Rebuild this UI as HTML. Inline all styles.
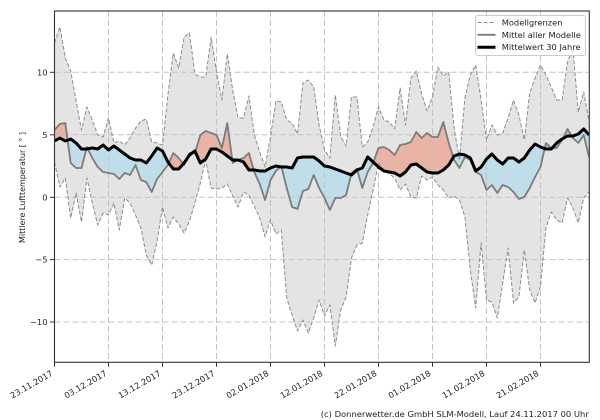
<!DOCTYPE html>
<html>
<head>
<meta charset="utf-8">
<style>
html,body{margin:0;padding:0;background:#fff;}
svg{display:block;}
text{font-family:"DejaVu Sans","Liberation Sans",sans-serif;fill:#222;}
</style>
</head>
<body>
<svg width="600" height="420" viewBox="0 0 600 420" xmlns="http://www.w3.org/2000/svg">
<defs>
<clipPath id="plot"><rect x="54.5" y="11" width="534.8" height="351.3"/></clipPath>
<clipPath id="above"><polygon points="54.5,141 59.9,138 65.3,141 70.7,139 76.1,143 81.5,149 86.9,149 92.3,148 97.7,149 103.1,145 108.5,150 113.9,146 119.3,150 124.7,154 130.1,158 135.5,160 140.9,160 146.3,163 151.7,156 157.1,148 162.5,151 167.9,162 173.3,169 178.7,169 184.1,163 189.5,155 194.9,151 200.3,163 205.7,159 211.1,149 216.5,149 221.9,152 227.3,156 232.7,160 238.1,160 243.5,162 248.9,170 254.3,170 259.7,171 265.1,171 270.5,168 275.9,166 281.3,167 286.7,167 292.1,168 297.5,158 302.9,157 308.3,157 313.7,157 319.1,161 324.5,166 329.9,167 335.3,169 340.7,171 346.1,173 351.5,175 356.9,170 362.3,168 367.7,157 373.1,162 378.5,167 383.9,171 389.3,172 394.7,173 400.1,176 405.5,172 410.9,165 416.3,164 421.7,168 427.1,172 432.5,173 437.9,173 443.3,170 448.7,165 454.1,156 459.5,154 464.9,155 470.3,158 475.7,171 481.1,167 486.5,159 491.9,154 497.3,160 502.7,164 508.1,158 513.5,158 518.9,162 524.3,158 529.7,150 535.1,144 540.5,147 545.9,149 551.3,149 556.7,143 562.1,139 567.5,136 572.9,136 578.3,134 583.7,129 589.1,135 589.1,0 54.5,0"/></clipPath>
<clipPath id="below"><polygon points="54.5,141 59.9,138 65.3,141 70.7,139 76.1,143 81.5,149 86.9,149 92.3,148 97.7,149 103.1,145 108.5,150 113.9,146 119.3,150 124.7,154 130.1,158 135.5,160 140.9,160 146.3,163 151.7,156 157.1,148 162.5,151 167.9,162 173.3,169 178.7,169 184.1,163 189.5,155 194.9,151 200.3,163 205.7,159 211.1,149 216.5,149 221.9,152 227.3,156 232.7,160 238.1,160 243.5,162 248.9,170 254.3,170 259.7,171 265.1,171 270.5,168 275.9,166 281.3,167 286.7,167 292.1,168 297.5,158 302.9,157 308.3,157 313.7,157 319.1,161 324.5,166 329.9,167 335.3,169 340.7,171 346.1,173 351.5,175 356.9,170 362.3,168 367.7,157 373.1,162 378.5,167 383.9,171 389.3,172 394.7,173 400.1,176 405.5,172 410.9,165 416.3,164 421.7,168 427.1,172 432.5,173 437.9,173 443.3,170 448.7,165 454.1,156 459.5,154 464.9,155 470.3,158 475.7,171 481.1,167 486.5,159 491.9,154 497.3,160 502.7,164 508.1,158 513.5,158 518.9,162 524.3,158 529.7,150 535.1,144 540.5,147 545.9,149 551.3,149 556.7,143 562.1,139 567.5,136 572.9,136 578.3,134 583.7,129 589.1,135 589.1,420 54.5,420"/></clipPath>
</defs>

<g clip-path="url(#plot)">
<!-- model range band -->
<polygon fill="#e4e4e4" points="54.5,43 59.9,27 65.3,58 70.7,71 76.1,101 81.5,130 86.9,107 92.3,120 97.7,135 103.1,137 108.5,118 113.9,143 119.3,141 124.7,145 130.1,138 135.5,128 140.9,121 146.3,119 151.7,142 157.1,143 162.5,145 167.9,95 173.3,53 178.7,68 184.1,37 189.5,33 194.9,74 200.3,77 205.7,77 211.1,37 216.5,72 221.9,100 227.3,54 232.7,90 238.1,118 243.5,118 248.9,96 254.3,135 259.7,152 265.1,167 270.5,137 275.9,101 281.3,102 286.7,120 292.1,123 297.5,134 302.9,83 308.3,80 313.7,87 319.1,125 324.5,150 329.9,158 335.3,95 340.7,136 346.1,146 351.5,97 356.9,97 362.3,147 367.7,142 373.1,127 378.5,107 383.9,120 389.3,122 394.7,129 400.1,88 405.5,125 410.9,78 416.3,71 421.7,94 427.1,111 432.5,97 437.9,67 443.3,76 448.7,72 454.1,128 459.5,160 464.9,98 470.3,75 475.7,65 481.1,100 486.5,140 491.9,125 497.3,135 502.7,133 508.1,118 513.5,100 518.9,115 524.3,140 529.7,93 535.1,78 540.5,65 545.9,75 551.3,87 556.7,100 562.1,100 567.5,62 572.9,48 578.3,112 583.7,92 589.1,122 589.1,192 583.7,198 578.3,223 572.9,208 567.5,198 562.1,223 556.7,220 551.3,212 545.9,228 540.5,286 535.1,303 529.7,290 524.3,250 518.9,297 513.5,303 508.1,248 502.7,283 497.3,318 491.9,302 486.5,300 481.1,243 475.7,308 470.3,270 464.9,217 459.5,200 454.1,196 448.7,198 443.3,190 437.9,185 432.5,177 427.1,180 421.7,176 416.3,198 410.9,197 405.5,184 400.1,190 394.7,178 389.3,174 383.9,170 378.5,163 373.1,190 367.7,215 362.3,243 356.9,245 351.5,258 346.1,297 340.7,310 335.3,346 329.9,305 324.5,316 319.1,300 313.7,318 308.3,333 302.9,320 297.5,331 292.1,315 286.7,298 281.3,230 275.9,234 270.5,220 265.1,237 259.7,218 254.3,206 248.9,195 243.5,192 238.1,207 232.7,196 227.3,184 221.9,188 216.5,189 211.1,188 205.7,160 200.3,183 194.9,203 189.5,221 184.1,233 178.7,224 173.3,217 167.9,228 162.5,207 157.1,241 151.7,265 146.3,255 140.9,228 135.5,215 130.1,203 124.7,198 119.3,230 113.9,203 108.5,215 103.1,213 97.7,225 92.3,203 86.9,178 81.5,222 76.1,193 70.7,218 65.3,178 59.9,187 54.5,162"/>

<!-- anomaly fills -->
<g id="anom">
<polygon id="P" fill-rule="evenodd" fill="#e9b3a6" clip-path="url(#above)" points="54.5,130 59.9,124 65.3,123 70.7,163 76.1,168 81.5,168 86.9,147 92.3,158 97.7,167 103.1,172 108.5,173 113.9,174 119.3,179 124.7,173 130.1,175 135.5,165 140.9,180 146.3,182 151.7,192 157.1,179 162.5,172 167.9,165 173.3,153 178.7,158 184.1,165 189.5,153 194.9,153 200.3,135 205.7,131 211.1,133 216.5,135 221.9,148 227.3,123 232.7,163 238.1,160 243.5,158 248.9,153 254.3,172 259.7,184 265.1,200 270.5,180 275.9,171 281.3,166 286.7,188 292.1,207 297.5,209 302.9,191 308.3,189 313.7,175 319.1,188 324.5,198 329.9,210 335.3,198 340.7,198 346.1,195 351.5,173 356.9,169 362.3,188 367.7,172 373.1,163 378.5,148 383.9,147 389.3,150 394.7,155 400.1,145 405.5,144 410.9,142 416.3,132 421.7,138 427.1,133 432.5,137 437.9,137 443.3,122 448.7,143 454.1,160 459.5,168 464.9,157 470.3,160 475.7,172 481.1,175 486.5,190 491.9,185 497.3,193 502.7,185 508.1,187 513.5,192 518.9,199 524.3,197 529.7,188 535.1,177 540.5,167 545.9,143 551.3,148 556.7,148 562.1,140 567.5,129 572.9,138 578.3,143 583.7,135 589.1,157 589.1,135 583.7,129 578.3,134 572.9,136 567.5,136 562.1,139 556.7,143 551.3,149 545.9,149 540.5,147 535.1,144 529.7,150 524.3,158 518.9,162 513.5,158 508.1,158 502.7,164 497.3,160 491.9,154 486.5,159 481.1,167 475.7,171 470.3,158 464.9,155 459.5,154 454.1,156 448.7,165 443.3,170 437.9,173 432.5,173 427.1,172 421.7,168 416.3,164 410.9,165 405.5,172 400.1,176 394.7,173 389.3,172 383.9,171 378.5,167 373.1,162 367.7,157 362.3,168 356.9,170 351.5,175 346.1,173 340.7,171 335.3,169 329.9,167 324.5,166 319.1,161 313.7,157 308.3,157 302.9,157 297.5,158 292.1,168 286.7,167 281.3,167 275.9,166 270.5,168 265.1,171 259.7,171 254.3,170 248.9,170 243.5,162 238.1,160 232.7,160 227.3,156 221.9,152 216.5,149 211.1,149 205.7,159 200.3,163 194.9,151 189.5,155 184.1,163 178.7,169 173.3,169 167.9,162 162.5,151 157.1,148 151.7,156 146.3,163 140.9,160 135.5,160 130.1,158 124.7,154 119.3,150 113.9,146 108.5,150 103.1,145 97.7,149 92.3,148 86.9,149 81.5,149 76.1,143 70.7,139 65.3,141 59.9,138 54.5,141"/>
<polygon fill-rule="evenodd" fill="#bfdeea" clip-path="url(#below)" points="54.5,130 59.9,124 65.3,123 70.7,163 76.1,168 81.5,168 86.9,147 92.3,158 97.7,167 103.1,172 108.5,173 113.9,174 119.3,179 124.7,173 130.1,175 135.5,165 140.9,180 146.3,182 151.7,192 157.1,179 162.5,172 167.9,165 173.3,153 178.7,158 184.1,165 189.5,153 194.9,153 200.3,135 205.7,131 211.1,133 216.5,135 221.9,148 227.3,123 232.7,163 238.1,160 243.5,158 248.9,153 254.3,172 259.7,184 265.1,200 270.5,180 275.9,171 281.3,166 286.7,188 292.1,207 297.5,209 302.9,191 308.3,189 313.7,175 319.1,188 324.5,198 329.9,210 335.3,198 340.7,198 346.1,195 351.5,173 356.9,169 362.3,188 367.7,172 373.1,163 378.5,148 383.9,147 389.3,150 394.7,155 400.1,145 405.5,144 410.9,142 416.3,132 421.7,138 427.1,133 432.5,137 437.9,137 443.3,122 448.7,143 454.1,160 459.5,168 464.9,157 470.3,160 475.7,172 481.1,175 486.5,190 491.9,185 497.3,193 502.7,185 508.1,187 513.5,192 518.9,199 524.3,197 529.7,188 535.1,177 540.5,167 545.9,143 551.3,148 556.7,148 562.1,140 567.5,129 572.9,138 578.3,143 583.7,135 589.1,157 589.1,135 583.7,129 578.3,134 572.9,136 567.5,136 562.1,139 556.7,143 551.3,149 545.9,149 540.5,147 535.1,144 529.7,150 524.3,158 518.9,162 513.5,158 508.1,158 502.7,164 497.3,160 491.9,154 486.5,159 481.1,167 475.7,171 470.3,158 464.9,155 459.5,154 454.1,156 448.7,165 443.3,170 437.9,173 432.5,173 427.1,172 421.7,168 416.3,164 410.9,165 405.5,172 400.1,176 394.7,173 389.3,172 383.9,171 378.5,167 373.1,162 367.7,157 362.3,168 356.9,170 351.5,175 346.1,173 340.7,171 335.3,169 329.9,167 324.5,166 319.1,161 313.7,157 308.3,157 302.9,157 297.5,158 292.1,168 286.7,167 281.3,167 275.9,166 270.5,168 265.1,171 259.7,171 254.3,170 248.9,170 243.5,162 238.1,160 232.7,160 227.3,156 221.9,152 216.5,149 211.1,149 205.7,159 200.3,163 194.9,151 189.5,155 184.1,163 178.7,169 173.3,169 167.9,162 162.5,151 157.1,148 151.7,156 146.3,163 140.9,160 135.5,160 130.1,158 124.7,154 119.3,150 113.9,146 108.5,150 103.1,145 97.7,149 92.3,148 86.9,149 81.5,149 76.1,143 70.7,139 65.3,141 59.9,138 54.5,141"/>
</g>

<!-- grid -->
<g stroke="#c4c4c4" stroke-width="1" stroke-dasharray="6,3" fill="none">
<line x1="108.5" y1="11" x2="108.5" y2="362"/>
<line x1="162.5" y1="11" x2="162.5" y2="362"/>
<line x1="216.5" y1="11" x2="216.5" y2="362"/>
<line x1="270.5" y1="11" x2="270.5" y2="362"/>
<line x1="324.5" y1="11" x2="324.5" y2="362"/>
<line x1="378.5" y1="11" x2="378.5" y2="362"/>
<line x1="432.5" y1="11" x2="432.5" y2="362"/>
<line x1="486.5" y1="11" x2="486.5" y2="362"/>
<line x1="540.5" y1="11" x2="540.5" y2="362"/>
<line x1="54.5" y1="72.3" x2="589" y2="72.3"/>
<line x1="54.5" y1="134.8" x2="589" y2="134.8"/>
<line x1="54.5" y1="197.3" x2="589" y2="197.3"/>
<line x1="54.5" y1="259.6" x2="589" y2="259.6"/>
<line x1="54.5" y1="322" x2="589" y2="322"/>
</g>

<!-- model bounds -->
<g fill="none" stroke="#8c8c8c" stroke-width="1" stroke-dasharray="4,2" stroke-linejoin="round">
<polyline points="54.5,43 59.9,27 65.3,58 70.7,71 76.1,101 81.5,130 86.9,107 92.3,120 97.7,135 103.1,137 108.5,118 113.9,143 119.3,141 124.7,145 130.1,138 135.5,128 140.9,121 146.3,119 151.7,142 157.1,143 162.5,145 167.9,95 173.3,53 178.7,68 184.1,37 189.5,33 194.9,74 200.3,77 205.7,77 211.1,37 216.5,72 221.9,100 227.3,54 232.7,90 238.1,118 243.5,118 248.9,96 254.3,135 259.7,152 265.1,167 270.5,137 275.9,101 281.3,102 286.7,120 292.1,123 297.5,134 302.9,83 308.3,80 313.7,87 319.1,125 324.5,150 329.9,158 335.3,95 340.7,136 346.1,146 351.5,97 356.9,97 362.3,147 367.7,142 373.1,127 378.5,107 383.9,120 389.3,122 394.7,129 400.1,88 405.5,125 410.9,78 416.3,71 421.7,94 427.1,111 432.5,97 437.9,67 443.3,76 448.7,72 454.1,128 459.5,160 464.9,98 470.3,75 475.7,65 481.1,100 486.5,140 491.9,125 497.3,135 502.7,133 508.1,118 513.5,100 518.9,115 524.3,140 529.7,93 535.1,78 540.5,65 545.9,75 551.3,87 556.7,100 562.1,100 567.5,62 572.9,48 578.3,112 583.7,92 589.1,122"/>
<polyline points="54.5,162 59.9,187 65.3,178 70.7,218 76.1,193 81.5,222 86.9,178 92.3,203 97.7,225 103.1,213 108.5,215 113.9,203 119.3,230 124.7,198 130.1,203 135.5,215 140.9,228 146.3,255 151.7,265 157.1,241 162.5,207 167.9,228 173.3,217 178.7,224 184.1,233 189.5,221 194.9,203 200.3,183 205.7,160 211.1,188 216.5,189 221.9,188 227.3,184 232.7,196 238.1,207 243.5,192 248.9,195 254.3,206 259.7,218 265.1,237 270.5,220 275.9,234 281.3,230 286.7,298 292.1,315 297.5,331 302.9,320 308.3,333 313.7,318 319.1,300 324.5,316 329.9,305 335.3,346 340.7,310 346.1,297 351.5,258 356.9,245 362.3,243 367.7,215 373.1,190 378.5,163 383.9,170 389.3,174 394.7,178 400.1,190 405.5,184 410.9,197 416.3,198 421.7,176 427.1,180 432.5,177 437.9,185 443.3,190 448.7,198 454.1,196 459.5,200 464.9,217 470.3,270 475.7,308 481.1,243 486.5,300 491.9,302 497.3,318 502.7,283 508.1,248 513.5,303 518.9,297 524.3,250 529.7,290 535.1,303 540.5,286 545.9,228 551.3,212 556.7,220 562.1,223 567.5,198 572.9,208 578.3,223 583.7,198 589.1,192"/>
</g>

<!-- model mean -->
<polyline fill="none" stroke="#7c7c7c" stroke-width="1.8" stroke-linejoin="round" points="54.5,130 59.9,124 65.3,123 70.7,163 76.1,168 81.5,168 86.9,147 92.3,158 97.7,167 103.1,172 108.5,173 113.9,174 119.3,179 124.7,173 130.1,175 135.5,165 140.9,180 146.3,182 151.7,192 157.1,179 162.5,172 167.9,165 173.3,153 178.7,158 184.1,165 189.5,153 194.9,153 200.3,135 205.7,131 211.1,133 216.5,135 221.9,148 227.3,123 232.7,163 238.1,160 243.5,158 248.9,153 254.3,172 259.7,184 265.1,200 270.5,180 275.9,171 281.3,166 286.7,188 292.1,207 297.5,209 302.9,191 308.3,189 313.7,175 319.1,188 324.5,198 329.9,210 335.3,198 340.7,198 346.1,195 351.5,173 356.9,169 362.3,188 367.7,172 373.1,163 378.5,148 383.9,147 389.3,150 394.7,155 400.1,145 405.5,144 410.9,142 416.3,132 421.7,138 427.1,133 432.5,137 437.9,137 443.3,122 448.7,143 454.1,160 459.5,168 464.9,157 470.3,160 475.7,172 481.1,175 486.5,190 491.9,185 497.3,193 502.7,185 508.1,187 513.5,192 518.9,199 524.3,197 529.7,188 535.1,177 540.5,167 545.9,143 551.3,148 556.7,148 562.1,140 567.5,129 572.9,138 578.3,143 583.7,135 589.1,157"/>

<!-- 30-year mean -->
<polyline fill="none" stroke="#000" stroke-width="3" stroke-linejoin="round" points="54.5,141 59.9,138 65.3,141 70.7,139 76.1,143 81.5,149 86.9,149 92.3,148 97.7,149 103.1,145 108.5,150 113.9,146 119.3,150 124.7,154 130.1,158 135.5,160 140.9,160 146.3,163 151.7,156 157.1,148 162.5,151 167.9,162 173.3,169 178.7,169 184.1,163 189.5,155 194.9,151 200.3,163 205.7,159 211.1,149 216.5,149 221.9,152 227.3,156 232.7,160 238.1,160 243.5,162 248.9,170 254.3,170 259.7,171 265.1,171 270.5,168 275.9,166 281.3,167 286.7,167 292.1,168 297.5,158 302.9,157 308.3,157 313.7,157 319.1,161 324.5,166 329.9,167 335.3,169 340.7,171 346.1,173 351.5,175 356.9,170 362.3,168 367.7,157 373.1,162 378.5,167 383.9,171 389.3,172 394.7,173 400.1,176 405.5,172 410.9,165 416.3,164 421.7,168 427.1,172 432.5,173 437.9,173 443.3,170 448.7,165 454.1,156 459.5,154 464.9,155 470.3,158 475.7,171 481.1,167 486.5,159 491.9,154 497.3,160 502.7,164 508.1,158 513.5,158 518.9,162 524.3,158 529.7,150 535.1,144 540.5,147 545.9,149 551.3,149 556.7,143 562.1,139 567.5,136 572.9,136 578.3,134 583.7,129 589.1,135"/>
</g>

<!-- frame -->
<rect x="54.5" y="11" width="534.8" height="351.3" fill="none" stroke="#333" stroke-width="1.1"/>

<!-- y ticks -->
<g stroke="#333" stroke-width="1">
<line x1="50" y1="72.3" x2="54.5" y2="72.3"/>
<line x1="50" y1="134.8" x2="54.5" y2="134.8"/>
<line x1="50" y1="197.3" x2="54.5" y2="197.3"/>
<line x1="50" y1="259.6" x2="54.5" y2="259.6"/>
<line x1="50" y1="322" x2="54.5" y2="322"/>
</g>
<g font-size="8.3" text-anchor="end">
<text x="47.5" y="75.3">10</text>
<text x="47.5" y="137.8">5</text>
<text x="47.5" y="200.3">0</text>
<text x="47.5" y="262.6">−5</text>
<text x="47.5" y="325">−10</text>
</g>

<!-- x ticks -->
<g stroke="#333" stroke-width="1">
<line x1="54.5" y1="362" x2="54.5" y2="366.7"/>
<line x1="108.5" y1="362" x2="108.5" y2="366.7"/>
<line x1="162.5" y1="362" x2="162.5" y2="366.7"/>
<line x1="216.5" y1="362" x2="216.5" y2="366.7"/>
<line x1="270.5" y1="362" x2="270.5" y2="366.7"/>
<line x1="324.5" y1="362" x2="324.5" y2="366.7"/>
<line x1="378.5" y1="362" x2="378.5" y2="366.7"/>
<line x1="432.5" y1="362" x2="432.5" y2="366.7"/>
<line x1="486.5" y1="362" x2="486.5" y2="366.7"/>
<line x1="540.5" y1="362" x2="540.5" y2="366.7"/>
</g>
<g font-size="8.3" text-anchor="end">
<text transform="translate(53.5,375) rotate(-30)">23.11.2017</text>
<text transform="translate(107.5,375) rotate(-30)">03.12.2017</text>
<text transform="translate(161.5,375) rotate(-30)">13.12.2017</text>
<text transform="translate(215.5,375) rotate(-30)">23.12.2017</text>
<text transform="translate(269.5,375) rotate(-30)">02.01.2018</text>
<text transform="translate(323.5,375) rotate(-30)">12.01.2018</text>
<text transform="translate(377.5,375) rotate(-30)">22.01.2018</text>
<text transform="translate(431.5,375) rotate(-30)">01.02.2018</text>
<text transform="translate(485.5,375) rotate(-30)">11.02.2018</text>
<text transform="translate(539.5,375) rotate(-30)">21.02.2018</text>
</g>

<!-- y label -->
<text transform="translate(24.8,187.5) rotate(-90)" font-size="8.3" text-anchor="middle" textLength="111" lengthAdjust="spacingAndGlyphs">Mittlere Lufttemperatur [ ° ]</text>

<!-- legend -->
<rect x="475.5" y="15.5" width="110" height="40" rx="2.5" fill="#fff" fill-opacity="0.85" stroke="#cccccc" stroke-width="1"/>
<line x1="477.5" y1="22.5" x2="495.5" y2="22.5" stroke="#8c8c8c" stroke-width="1" stroke-dasharray="4,2"/>
<line x1="477.5" y1="34.8" x2="495.5" y2="34.8" stroke="#7c7c7c" stroke-width="1.8"/>
<line x1="477.5" y1="47.2" x2="495.5" y2="47.2" stroke="#000" stroke-width="3"/>
<g font-size="8.3">
<text x="501.7" y="25.5">Modellgrenzen</text>
<text x="501.7" y="37.8">Mittel aller Modelle</text>
<text x="501.7" y="50.2">Mittelwert 30 Jahre</text>
</g>

<!-- caption -->
<text x="588.8" y="417" font-size="8.3" text-anchor="end" textLength="268" lengthAdjust="spacingAndGlyphs">(c) Donnerwetter.de GmbH SLM-Modell, Lauf 24.11.2017 00 Uhr</text>
</svg>
</body>
</html>
